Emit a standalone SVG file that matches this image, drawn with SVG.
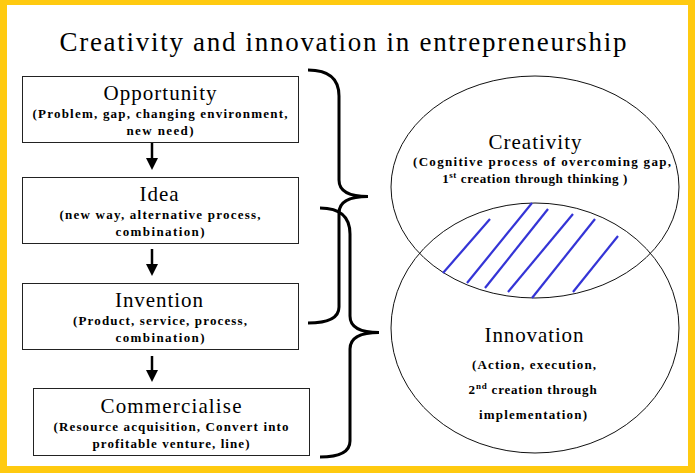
<svg xmlns="http://www.w3.org/2000/svg" width="695" height="473" viewBox="0 0 695 473">
<style>
.box{fill:#fff;stroke:#222;stroke-width:1}
.ell{fill:none;stroke:#111;stroke-width:1}
.hd{font-family:"Liberation Serif",serif;font-size:21px;fill:#000;text-anchor:middle}
.sb{font-family:"Liberation Serif",serif;font-size:13px;font-weight:bold;fill:#000;text-anchor:middle}
.br{fill:none;stroke:#000;stroke-width:3}
.ar{stroke:#000;stroke-width:2.5;marker-end:url(#ah)}
.hatch{stroke:#3434D6;stroke-width:2.2}
</style>
<defs>
<marker id="ah" markerWidth="5" markerHeight="5" refX="1" refY="2.5" orient="auto" markerUnits="strokeWidth">
<path d="M0,0 L5,2.5 L0,5 Z" fill="#000"/>
</marker>
</defs>
<rect x="0" y="0" width="695" height="473" fill="#FFCA10"/>
<rect x="7" y="5" width="681" height="461" fill="#fff"/>
<text x="343" y="51" font-family="Liberation Serif, serif" font-size="27" text-anchor="middle" textLength="567" lengthAdjust="spacing">Creativity and innovation in entrepreneurship</text>

<g id="opportunity">
<rect class="box" x="22.5" y="76.5" width="276" height="66"/>
<text class="hd" x="160" y="100" textLength="113" lengthAdjust="spacing">Opportunity</text>
<text class="sb" x="160" y="118" textLength="255" lengthAdjust="spacing">(Problem, gap, changing environment,</text>
<text class="sb" x="160" y="135" textLength="67" lengthAdjust="spacing">new need)</text>
</g>
<g id="idea">
<rect class="box" x="22.5" y="177.5" width="276" height="66"/>
<text class="hd" x="159" y="201" textLength="39" lengthAdjust="spacing">Idea</text>
<text class="sb" x="160" y="219" textLength="201" lengthAdjust="spacing">(new way, alternative process,</text>
<text class="sb" x="160" y="236" textLength="89" lengthAdjust="spacing">combination)</text>
</g>
<g id="invention">
<rect class="box" x="22.5" y="283.5" width="276" height="66"/>
<text class="hd" x="159" y="307" textLength="88" lengthAdjust="spacing">Invention</text>
<text class="sb" x="160" y="325" textLength="174" lengthAdjust="spacing">(Product, service, process,</text>
<text class="sb" x="160" y="342" textLength="89" lengthAdjust="spacing">combination)</text>
</g>
<g id="commercialise">
<rect class="box" x="33.5" y="388.5" width="276" height="67"/>
<text class="hd" x="171" y="413" textLength="141" lengthAdjust="spacing">Commercialise</text>
<text class="sb" x="171" y="431" textLength="235" lengthAdjust="spacing">(Resource acquisition, Convert into</text>
<text class="sb" x="171" y="448" textLength="157" lengthAdjust="spacing">profitable venture, line)</text>
</g>

<g id="creativity">
<ellipse class="ell" cx="535" cy="187" rx="144" ry="111"/>
<text class="hd" x="535" y="149" textLength="93" lengthAdjust="spacing">Creativity</text>
<text class="sb" x="542" y="166" textLength="258" lengthAdjust="spacing">(Cognitive process of overcoming gap,</text>
<text class="sb" x="535" y="183" letter-spacing="0.6">1<tspan font-size="9" dy="-5">st</tspan><tspan dy="5"> creation through thinking )</tspan></text>
</g>
<g id="innovation">
<ellipse class="ell" cx="535" cy="328" rx="144" ry="125"/>
<text class="hd" x="534" y="342" textLength="99" lengthAdjust="spacing">Innovation</text>
<text class="sb" x="534" y="369" textLength="124" lengthAdjust="spacing">(Action, execution,</text>
<text class="sb" x="533" y="394" letter-spacing="0.8">2<tspan font-size="9" dy="-5">nd</tspan><tspan dy="5"> creation through</tspan></text>
<text class="sb" x="533" y="419" textLength="108" lengthAdjust="spacing">implementation)</text>
</g>

<g id="overlap-hatch">
<line class="hatch" x1="490" y1="219" x2="443" y2="273"/>
<line class="hatch" x1="532" y1="203" x2="467" y2="283"/>
<line class="hatch" x1="548" y1="209" x2="485" y2="288"/>
<line class="hatch" x1="573" y1="214" x2="508" y2="292"/>
<line class="hatch" x1="595" y1="219" x2="532" y2="298"/>
<line class="hatch" x1="618" y1="236" x2="573" y2="292"/>
</g>

<g id="connectors">
<line class="ar" x1="152" y1="143" x2="152" y2="160"/>
<line class="ar" x1="152" y1="249" x2="152" y2="266"/>
<line class="ar" x1="152" y1="356" x2="152" y2="372"/>
<path class="br" d="M308,70 C330,70 339,80 339,96 L339,180 C339,191 349,196.5 368,196.5 C349,196.5 339,202 339,213 L339,307 C339,317 330,323 308,323"/>
<path class="br" d="M320,208 C342,208 350,218 350,234 L350,316 C350,327 360,332.5 379,332.5 C360,332.5 350,338 350,349 L350,441 C350,451 342,457 320,457"/>
</g>
</svg>
